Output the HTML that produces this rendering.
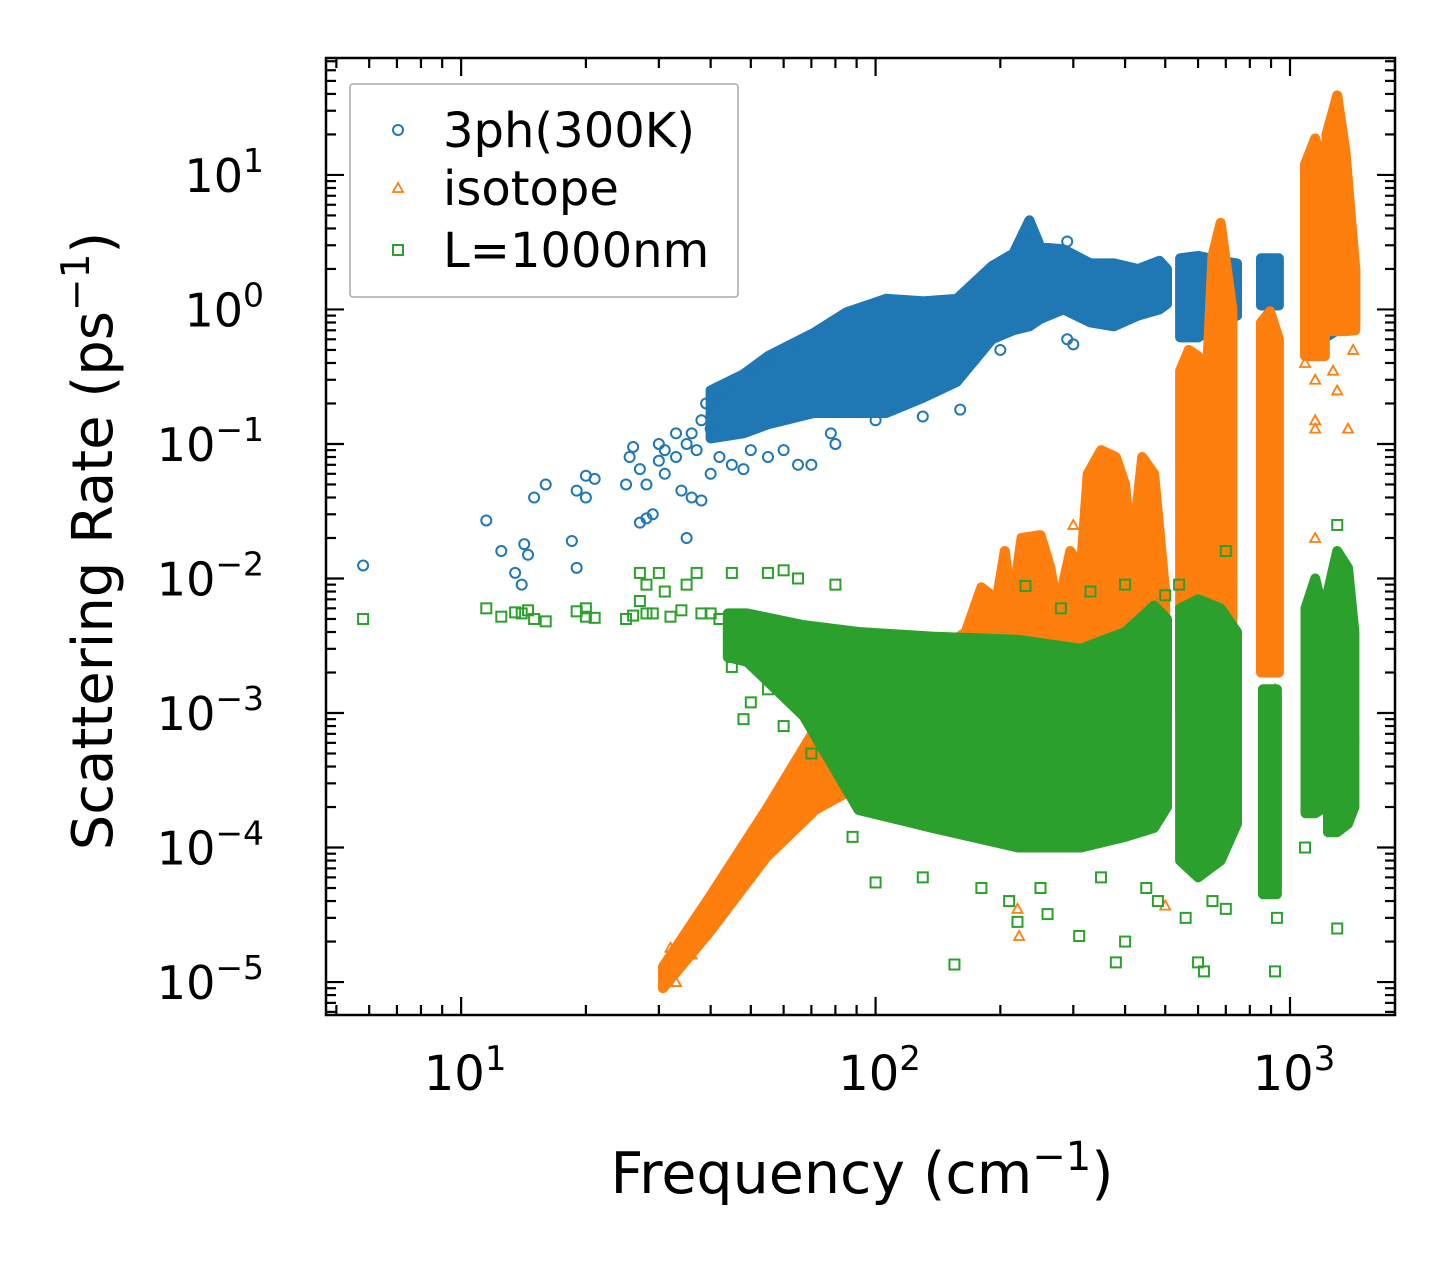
<!DOCTYPE html>
<html><head><meta charset="utf-8"><style>
html,body{margin:0;padding:0;background:#fff;}
svg{display:block;font-family:"DejaVu Sans","Liberation Sans",sans-serif;}
</style></head><body>
<svg id="chart" width="1455" height="1265" viewBox="0 0 1455 1265" xmlns="http://www.w3.org/2000/svg">
<g id="marks"></g>
<g id="axes"></g>
</svg>
<script>
// ---- data ----
const xTickValues = [10, 100, 1000];
const xTickLabels = ["1", "2", "3"];
const yTickValues = [10, 1, 0.1, 0.01, 0.001, 0.0001, 0.00001];
const yTickExps = ["1", "0", "\u22121", "\u22122", "\u22123", "\u22124", "\u22125"];
// dense regions: [freq, low, high]
const blueBands = [
 [[40,0.11,0.25],[48,0.12,0.33],[55,0.14,0.45],[71,0.17,0.67],[85,0.17,0.95],[106,0.17,1.2],[130,0.22,1.15],[157,0.29,1.2],[191,0.6,2.1],[215,0.7,2.6],[235,0.75,4.6],[250,0.85,2.9],[284,1.0,2.8],[330,0.8,2.2],[376,0.75,2.2],[430,0.9,2.0],[484,1.0,2.3],[505,1.1,2.0]],
 [[543,0.62,2.4],[600,0.62,2.5],[680,0.8,2.3],[745,0.9,2.2]],
 [[851,1.07,2.4],[940,1.07,2.4]],
 [[1087,0.5,5],[1200,0.6,3],[1300,0.7,2.5],[1437,0.8,2.0]]
];
const orangeBands = [
 [[30.7,0.9e-5,1.3e-5],[40,2.4e-5,4.4e-5],[54.4,8.4e-5,1.9e-4],[71.5,1.9e-4,7.6e-4],[84,2.5e-4,1.1e-3],[120,3e-4,2e-3],[165,3e-4,4e-3],[180,3e-4,8.6e-3],[196,3e-4,7e-3],[205,4e-4,0.016],[213,4e-4,6e-3],[225,4e-4,0.02],[250,4e-4,0.021],[264,4e-4,0.012],[275,4e-4,6e-3],[295,4e-4,0.016],[313,4e-4,0.012],[325,5e-4,0.06],[350,5e-4,0.09],[380,5e-4,0.08],[400,5e-4,0.05],[415,5e-4,0.015],[440,5e-4,0.08],[470,5e-4,0.06],[500,5e-4,0.008]],
 [[543,1e-3,0.35],[570,1e-3,0.5],[600,1e-3,0.45],[629,1e-3,0.3],[650,1e-3,2.5],[680,1e-3,4.4],[726,1e-3,1.0]],
 [[851,2e-3,0.8],[895,2e-3,0.97],[940,2e-3,0.6]],
 [[1087,0.45,12],[1150,0.45,18.7],[1213,0.45,10]],
 [[1225,0.69,20],[1300,0.69,39],[1360,0.69,15],[1437,0.7,2]]
];
const greenBands = [
 [[44,2.6e-3,5.5e-3],[49,2.4e-3,5.5e-3],[67,9.5e-4,4.5e-3],[91,1.9e-4,4e-3],[137,1.4e-4,3.7e-3],[221,1e-4,3.5e-3],[313,1e-4,3e-3],[400,1.2e-4,4e-3],[470,1.4e-4,6.3e-3],[505,2e-4,5e-3]],
 [[543,8e-5,6e-3],[600,6e-5,7e-3],[680,8e-5,6e-3],[745,1.5e-4,4e-3]],
 [[860,4.5e-5,1.5e-3],[930,4.5e-5,1.5e-3]],
 [[1090,1.8e-4,6e-3],[1150,1.8e-4,0.01],[1215,2e-4,5e-3]],
 [[1235,1.3e-4,0.008],[1300,1.3e-4,0.016],[1380,1.5e-4,0.012],[1430,2e-4,4e-3]]
];
const bluePoints = [[5.8,0.0125],[11.5,0.027],[12.5,0.016],[13.5,0.011],[14,0.009],[14.2,0.018],[14.5,0.015],[15,0.04],[16,0.05],[18.5,0.019],[19,0.045],[19,0.012],[20,0.058],[20,0.04],[21,0.055],[25,0.05],[25.5,0.08],[26,0.095],[27,0.065],[27,0.026],[28,0.028],[28,0.05],[29,0.03],[30,0.075],[30,0.1],[31,0.06],[33,0.08],[34,0.045],[35,0.02],[36,0.04],[38,0.038],[40,0.06],[42,0.08],[45,0.07],[48,0.065],[50,0.09],[55,0.08],[60,0.09],[65,0.07],[70,0.07],[36,0.12],[38,0.15],[40,0.13],[33,0.12],[35,0.1],[37,0.09],[31,0.09],[39,0.2],[42,0.22],[45,0.26],[50,0.35],[55,0.42],[64,0.55],[80,0.1],[78,0.12],[100,0.15],[130,0.16],[160,0.18],[200,0.5],[290,3.2],[290,0.6],[300,0.55]];
const orangePoints = [[32,1.8e-5],[36,1.6e-5],[33,1e-5],[220,3.5e-5],[222,2.2e-5],[500,3.7e-5],[1087,0.4],[1150,0.3],[1150,0.15],[1150,0.13],[1270,0.35],[1300,0.25],[1380,0.13],[1420,0.5],[930,0.01],[930,0.005],[920,0.0015],[300,0.025],[470,0.003],[700,0.02],[720,0.01],[1150,0.02]];
const greenPoints = [[5.8,0.005],[11.5,0.006],[12.5,0.0052],[13.5,0.0056],[14,0.0055],[14.5,0.0058],[15,0.005],[16,0.0048],[19,0.0057],[20,0.006],[20,0.0052],[21,0.0051],[25,0.005],[26,0.0053],[27,0.0068],[28,0.0055],[27,0.011],[28,0.009],[30,0.011],[31,0.008],[29,0.0055],[32,0.0052],[34,0.0058],[35,0.009],[37,0.011],[38,0.0055],[40,0.0055],[42,0.005],[45,0.0022],[48,0.0009],[50,0.0012],[55,0.0015],[60,0.0008],[70,0.0005],[88,0.00012],[100,0.000055],[155,0.0000135],[130,0.00006],[180,0.00005],[220,0.000028],[260,0.000032],[310,0.000022],[380,0.000014],[400,0.00002],[600,0.000014],[620,0.000012],[700,0.000035],[920,0.000012],[930,0.00003],[1087,0.0001],[1300,0.000025],[1420,0.0006],[1300,0.025],[400,0.009],[500,0.0075],[700,0.016],[60,0.0115],[55,0.011],[45,0.011],[65,0.01],[80,0.009],[230,0.0088],[280,0.006],[330,0.008],[540,0.009],[210,0.00004],[250,0.00005],[350,0.00006],[450,0.00005],[480,0.00004],[560,0.00003],[650,0.00004]];

// ---- axes functions ----
const X0=326,X1=1395,Y0=58,Y1=1015;
const LX0=Math.log10(4.72),LX1=Math.log10(1792),LY0=Math.log10(74),LY1=-5.245;
function sx(f){return X0+(Math.log10(f)-LX0)/(LX1-LX0)*(X1-X0);}
function sy(v){return Y0+(Math.log10(v)-LY0)/(LY1-LY0)*(Y1-Y0);}
const NS="http://www.w3.org/2000/svg";
const marks=document.getElementById('marks');
const axes=document.getElementById('axes');
function mk(tag,attrs,parent){const e=document.createElementNS(NS,tag);for(const k in attrs)e.setAttribute(k,attrs[k]);parent.appendChild(e);return e;}

function drawBands(bands,color,name){
  bands.forEach(seg=>{
    const top=seg.map(p=>sx(p[0]).toFixed(1)+','+sy(p[2]).toFixed(1));
    const bot=seg.slice().reverse().map(p=>sx(p[0]).toFixed(1)+','+sy(p[1]).toFixed(1));
    const e=mk('polygon',{points:top.concat(bot).join(' '),fill:color,stroke:color,'stroke-width':10,'stroke-linejoin':'round'},marks);
    
    
  });
}
function drawPoints(pts,color,shape,name){
  pts.forEach(p=>{
    const x=sx(p[0]),y=sy(p[1]);let e;
    if(shape==='c') e=mk('circle',{cx:x,cy:y,r:5,fill:'none',stroke:color,'stroke-width':2},marks);
    else if(shape==='s') e=mk('rect',{x:x-5,y:y-5,width:10,height:10,fill:'none',stroke:color,'stroke-width':2},marks);
    else e=mk('polygon',{points:`${x},${y-5} ${x-5},${y+4} ${x+5},${y+4}`,fill:'none',stroke:color,'stroke-width':1.8},marks);
    
    
  });
}
const CB='#1f77b4',CO='#ff7f0e',CG='#2ca02c';
drawBands(blueBands,CB,'3ph-dense-region');
drawPoints(bluePoints,CB,'c','3ph-point');
drawBands(orangeBands,CO,'isotope-dense-region');
drawPoints(orangePoints,CO,'t','isotope-point');
drawBands(greenBands,CG,'boundary-dense-region');
drawPoints(greenPoints,CG,'s','boundary-point');

// frame
const fr=mk('rect',{x:X0,y:Y0,width:X1-X0,height:Y1-Y0,fill:'none',stroke:'#000','stroke-width':2.5},axes);


for(let d=0;d<=4;d++){for(let m=1;m<10;m++){const f=m*Math.pow(10,d);const x=sx(f);if(x<X0||x>X1)continue;const L=m===1?18:10;
  mk('line',{x1:x,y1:Y1,x2:x,y2:Y1-L,stroke:'#000','stroke-width':2.2},axes);
  mk('line',{x1:x,y1:Y0,x2:x,y2:Y0+L,stroke:'#000','stroke-width':2.2},axes);}}
for(let d=-6;d<=2;d++){for(let m=1;m<10;m++){const v=m*Math.pow(10,d);const y=sy(v);if(y<Y0||y>Y1)continue;const L=m===1?18:10;
  mk('line',{x1:X0,y1:y,x2:X0+L,y2:y,stroke:'#000','stroke-width':2.2},axes);
  mk('line',{x1:X1,y1:y,x2:X1-L,y2:y,stroke:'#000','stroke-width':2.2},axes);}}
xTickValues.forEach((v,i)=>{
  const t=mk('text',{x:sx(v)+4,y:1090,'font-size':48,'text-anchor':'middle'},axes);
  
  
  t.innerHTML='10<tspan dy="-20" font-size="34">'+xTickLabels[i]+'</tspan>';
});
yTickValues.forEach((v,i)=>{
  const t=mk('text',{x:264,y:sy(v)+17,'font-size':46,'text-anchor':'end'},axes);
  
  
  t.innerHTML='10<tspan dy="-20" font-size="33">'+yTickExps[i]+'</tspan>';
});
const xl=mk('text',{x:862,y:1193,'font-size':57,'text-anchor':'middle'},axes);


xl.innerHTML='Frequency (cm<tspan dy="-23" font-size="40">\u22121</tspan><tspan dy="23">)</tspan>';
const yl=mk('text',{x:0,y:0,'font-size':56,'text-anchor':'middle',transform:'translate(112,541) rotate(-90)'},axes);


yl.innerHTML='Scattering Rate (ps<tspan dy="-23" font-size="39">\u22121</tspan><tspan dy="23">)</tspan>';
// legend
const lg=mk('g',{},axes);


mk('rect',{x:350,y:84,width:388,height:213,fill:'#fff',stroke:'#aaa','stroke-width':1.5,rx:3},lg);
const legendLabels=['3ph(300K)','isotope','L=1000nm'];
const legendY=[130,188,250];
mk('circle',{cx:398,cy:legendY[0],r:5,fill:'none',stroke:CB,'stroke-width':2},lg);
mk('polygon',{points:`398,${legendY[1]-5} 393,${legendY[1]+4} 403,${legendY[1]+4}`,fill:'none',stroke:CO,'stroke-width':1.8},lg);
mk('rect',{x:393,y:legendY[2]-5,width:10,height:10,fill:'none',stroke:CG,'stroke-width':2},lg);
legendLabels.forEach((s,i)=>{
  const t=mk('text',{x:443,y:legendY[i]+17,'font-size':48},lg);
  
  
  t.textContent=s;
});
</script>
</body></html>
